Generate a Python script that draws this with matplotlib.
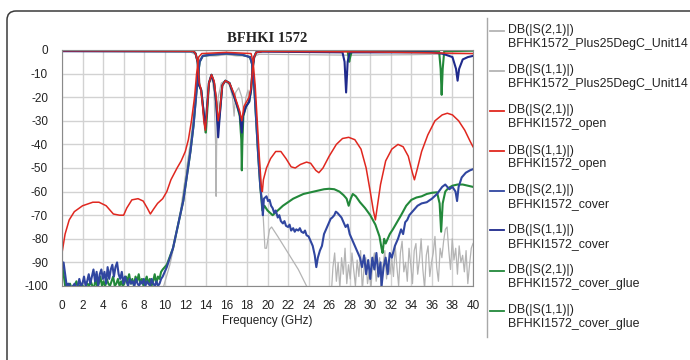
import matplotlib
matplotlib.use("Agg")
import matplotlib.pyplot as plt
import numpy as np
from matplotlib.patches import FancyBboxPatch
from matplotlib.lines import Line2D

plt.rcParams['font.family'] = ['Liberation Sans', 'DejaVu Sans']
plt.rcParams['axes.unicode_minus'] = False

# ---- data (GHz, dB) ----
# gray: BFHK1572_Plus25DegC_Unit14
g21_f = [0, 9.5, 9.9, 10.5, 11, 11.5, 12, 12.5, 13, 13.2, 13.4, 13.8, 15, 16, 17, 18, 18.4, 18.6,
         18.8, 19.1, 19.4, 19.6, 19.75, 19.9, 20.2, 20.4, 21, 22, 23, 23.8, 24.5, 26]
g21_db = [-110, -108, -100, -91, -81, -69, -54, -39, -20, -9, -4, -2.5, -2.5, -2, -2.5, -2.5, -4, -10,
          -20, -40, -60, -72, -84, -84, -76, -75, -79, -86, -93, -100, -106, -106]
g21_noise_db = [-104, -92, -86, -98, -90, -101, -88, -95, -84, -99, -91,
                -97, -86, -93, -100, -89, -96, -85, -102, -92, -88, -99, -94,
                -101, -90, -86, -98, -93, -88, -104, -91, -85, -97, -89, -95,
                -88, -96, -83, -92, -100, -86, -81, -94, -90, -98, -84, -91,
                -99, -85, -82, -95, -89, -80, -93, -101, -87, -83, -96, -90,
                -86, -79, -92, -98, -84, -88, -81, -76, -75, -85, -93, -80,
                -89, -84, -95, -83, -90, -87, -94, -85, -99, -91, -84, -82]

g11_f = [0, 12.5, 13.0, 13.3, 13.45, 13.6, 13.75, 13.9, 14.05, 14.3, 14.6, 14.8, 14.95, 15.0, 15.05,
         15.2, 15.5, 15.9, 16.3, 16.6, 16.75, 16.9, 17.2, 17.5, 17.7, 17.9, 18.1, 18.3, 18.45, 18.6,
         18.8, 19.2, 24, 28, 34, 40]
g11_db = [-0.6, -0.8, -2, -8, -15, -18, -25, -35, -25, -14, -12, -18, -40, -62, -40,
          -20, -14, -13, -15, -20, -28, -18, -16, -20, -27, -20, -17, -22, -15, -6,
          -2.5, -1.8, -2, -2.2, -2, -1.5]

# red: BFHKI1572_open
r21_f = [0, 0.3, 0.7, 1.2, 2, 3, 3.6, 4.3, 5, 5.6, 6, 6.3, 6.8, 7.4, 7.9, 8.3, 8.6, 8.9, 9.3, 9.8,
         10.2, 10.6, 11.2, 11.6, 12.0, 12.3, 12.6, 12.9, 13.1, 13.3, 13.6, 16, 18.4, 18.6, 18.8,
         19.0, 19.2, 19.4, 19.5, 19.6, 19.9, 20.3, 20.8, 21.3, 21.8, 22.3, 22.7, 23.2, 23.8, 24.2,
         24.7, 25.0, 25.4, 26, 26.7, 27.3, 27.9, 28.5, 29.1, 29.6, 30.0, 30.3, 30.5, 30.7, 31.0,
         31.5, 32.1, 32.7, 33.2, 33.7, 34.1, 34.3, 34.6, 35.0, 35.6, 36.3, 37.0, 37.5, 38.0, 38.6,
         39.2, 39.7, 40]
r21_db = [-86, -78, -72, -68.5, -66, -64.5, -64.5, -66, -69.5, -70, -70, -67, -63.5, -63, -64, -67,
          -69.5, -67.5, -65, -63, -60, -55, -50, -47, -43, -38, -30, -20, -10, -3, -1.5, -1, -1.5,
          -5, -15, -30, -45, -58, -60, -55, -50, -46, -43, -43, -46, -49.5, -50, -48.5, -47.5, -48,
          -51, -52, -50, -45, -40, -37.5, -37, -38, -42, -50, -60, -68, -72, -66, -57,
          -47, -42, -40, -41, -45, -52, -55, -50, -43, -36, -30, -27.5, -26.8, -27.5, -30,
          -34, -38.5, -41]

r11_f = [0, 12.8, 13.0, 13.2, 13.35, 13.5, 13.65, 13.8, 13.95, 14.1, 14.3, 14.55, 14.8, 15.0, 15.2,
         15.35, 15.6, 15.9, 16.3, 16.7, 17.0, 17.3, 17.5, 17.7, 17.95, 18.2, 18.4, 18.55, 18.7,
         18.9, 19.5, 30, 40]
r11_db = [-0.3, -0.5, -1.5, -5, -14, -16, -22, -30, -34, -26, -14, -10.5, -13, -20, -30,
          -26, -15, -13, -14, -18, -22, -26, -30, -24, -22, -20, -16, -8, -3,
          -1, -0.6, -0.8, -1.5]

# blue: BFHKI1572_cover
b21_noise_db = [-93, -90, -95, -100, -99, -100, -101, -100, -99, -101, -100, -97, -100, -99, -96,
                -100, -98, -95, -99, -96, -93, -98, -94, -100, -95, -93, -97, -94, -99, -92,
                -97, -93, -91, -96, -92, -90, -95, -97, -94, -99, -96, -98, -100, -97, -99,
                -98, -100, -97, -99, -100, -98, -99, -97, -100, -98, -99, -100, -97, -99,
                -100, -98, -100, -99, -97, -96]
b21_f = [10.2, 10.8, 11.3, 11.8, 12.2, 12.5, 12.8, 13.0, 13.2, 13.4, 13.7, 14.5, 16, 17.5, 18.3,
         18.5, 18.7, 18.9, 19.1, 19.3, 19.45, 19.55, 19.65, 19.9, 20.05, 20.2, 20.35, 20.5, 20.65,
         20.8, 21, 21.15, 21.3, 21.5, 21.65, 21.8, 22, 22.15, 22.3, 22.5, 22.65, 22.8, 23, 23.15,
         23.3, 23.5, 23.65, 23.8, 24, 24.2, 24.4, 24.6, 24.75, 24.9, 25.1, 25.3, 25.5, 25.65, 25.8,
         26, 26.15, 26.3, 26.5, 26.65, 26.8, 27.0, 27.2, 27.4, 27.6, 27.8, 28.0, 28.2, 28.4,
         28.6, 28.8, 29.0, 29.2, 29.4, 29.6, 29.8, 30.0, 30.2, 30.4, 30.6, 30.8, 31.0, 31.1, 31.3,
         31.5, 31.7, 31.9, 32.1, 32.4, 32.7, 33.0, 33.2, 33.4, 33.6, 33.8, 34.0, 34.2, 34.4, 34.6,
         35, 35.5, 36, 36.5, 37.0, 37.3, 37.7, 38.0, 38.3, 38.45, 38.6, 38.9, 39.3, 39.7, 40]
b21_db = [-92, -84, -74, -64, -52, -43, -32, -22, -12, -5, -2.5, -2, -1.5, -2, -3,
          -6, -15, -30, -45, -58, -64, -70, -63, -62, -64, -63.5, -66, -67, -69, -68,
          -71, -70, -72.5, -73.5, -72.5, -74.5, -75, -74, -76.5, -75.5, -77, -76, -76.5, -75.5,
          -77, -77.5, -76.5, -78.5, -79, -81, -83, -87, -92, -88, -85,
          -83, -78, -76.5, -75, -73, -71.5, -71, -70, -68.5, -69, -70, -71, -73, -75, -74, -78, -80,
          -82, -84, -86, -88, -92, -87, -95, -89, -97, -88, -93, -86, -96, -90, -100, -92,
          -88, -95, -86, -88, -83, -80, -76, -78, -73, -72, -70, -69, -68, -67, -66,
          -65, -64.5, -63, -61, -58, -57, -59, -58, -60, -64, -58, -54, -52, -51, -50.5]

b11_f = [0, 12.8, 13.0, 13.2, 13.35, 13.55, 13.75, 13.95, 14.1, 14.3, 14.55, 14.8, 15.0, 15.2,
         15.35, 15.6, 15.9, 16.3, 16.7, 17.0, 17.3, 17.5, 17.6, 17.9, 18.2, 18.4, 18.55, 18.7,
         18.9, 19.5, 27.3, 27.5, 27.65, 27.8, 28, 36, 37, 38.0, 38.35, 38.5, 38.65, 39, 39.5, 40]
b11_db = [-0.5, -0.6, -1.5, -5, -15, -17, -25, -33, -25, -14, -10.5, -14, -22, -37,
          -28, -15, -13, -14, -19, -23, -27, -35, -28, -24, -22, -17, -8, -3,
          -1, -0.7, -1, -5, -18, -5, -1, -1, -1.5, -3, -8, -13, -8, -4, -3, -2.5]

# green: BFHKI1572_cover_glue
gr21_noise_db = [-91, -95, -100, -101, -100, -99, -101, -100, -100, -98, -101, -100, -99, -100,
                 -101, -100, -99, -100, -98, -100, -101, -97, -100, -99, -96, -100, -98, -100,
                 -97, -99, -100, -98, -96, -100, -99, -97, -100, -98, -100, -99, -96, -98, -95,
                 -99, -97, -100, -96, -98, -95, -99, -97, -100, -98, -96, -99, -97, -100, -98,
                 -95, -99, -96, -97, -94, -93]
gr21_f = [10.2, 10.8, 11.3, 11.8, 12.2, 12.5, 12.8, 13.0, 13.2, 13.4, 13.7, 14.5, 16, 17.5, 18.3,
          18.5, 18.7, 18.9, 19.1, 19.3, 19.5, 19.7, 20, 20.5, 21, 21.5, 22, 22.5, 23, 23.5, 24,
          24.5, 25, 25.5, 26, 26.5, 27, 27.4, 27.7, 27.9, 28.1, 28.3, 28.6, 29, 29.5, 30, 30.5,
          30.9, 31.1, 31.2, 31.35, 31.5, 31.7, 31.9, 32.2, 32.6, 33, 33.5, 34, 34.5, 35, 35.5,
          36, 36.5, 36.75, 36.9, 37.05, 37.3, 37.6, 38, 38.5, 39, 39.5, 40]
gr21_db = [-91, -84, -74, -64, -52, -43, -32, -22, -12, -5, -2.5, -2, -1.5, -2, -3,
           -6, -15, -30, -45, -58, -68, -66, -68, -70, -68, -66, -64.5, -63, -62, -61, -60.5,
           -60, -59.5, -59, -58.8, -59, -60, -61.5, -63, -66, -63, -61, -62, -64.5, -67, -70, -74,
           -79, -84, -86, -80, -82, -80, -78, -76, -73, -70, -66, -63.5, -62.5, -62, -61,
           -60.5, -60.3, -65, -77, -65, -60, -58.5, -57.5, -57, -57, -57.5, -58]

gr11_f = [0, 12.8, 13.0, 13.2, 13.35, 13.55, 13.75, 14.0, 14.15, 14.3, 14.55, 14.8, 15.0, 15.2,
          15.35, 15.6, 15.9, 16.3, 16.7, 17.0, 17.3, 17.45, 17.5, 17.55, 17.65, 17.9, 18.2, 18.4,
          18.55, 18.7, 18.9, 19.5, 27.8, 27.95, 28.05, 28.2, 36.7, 36.85, 36.95, 37.05, 37.2, 40]
gr11_db = [-0.4, -0.5, -1.5, -5, -15, -17, -25, -35, -25, -14, -10.5, -14, -22, -33,
           -27, -15, -13, -14, -19, -23, -28, -38, -51, -40, -28, -24, -22, -17,
           -8, -3, -1, -0.4, -0.5, -5, -3, -0.5, -0.5, -8, -19, -8, -0.5, -0.3]

labels = ["BFHK1572_Plus25DegC_Unit14", "BFHK1572_Plus25DegC_Unit14", "BFHKI1572_open",
          "BFHKI1572_open", "BFHKI1572_cover", "BFHKI1572_cover", "BFHKI1572_cover_glue",
          "BFHKI1572_cover_glue"]
params = ["DB(|S(2,1)|)", "DB(|S(1,1)|)"] * 4
colors = ["#b4b4b4", "#b4b4b4", "#e0271f", "#e0271f", "#3046a0", "#1f2a8c", "#22883a", "#22883a"]

# full sweeps
g21_x = np.concatenate([g21_f, np.linspace(26.2, 40, len(g21_noise_db))])
g21_y = np.concatenate([g21_db, g21_noise_db])
b21_x = np.concatenate([np.linspace(0, 9.8, len(b21_noise_db)), b21_f])
b21_y = np.concatenate([b21_noise_db, b21_db])
gr21_x = np.concatenate([np.linspace(0, 9.8, len(gr21_noise_db)), gr21_f])
gr21_y = np.concatenate([gr21_noise_db, gr21_db])

fig = plt.figure(figsize=(6.9, 3.6), dpi=100)
ax = fig.add_axes([62 / 690, 1 - 286 / 360, 411 / 690, 236 / 360])

ax.plot(g21_x, g21_y, color=colors[0], lw=0.9)
ax.plot(g11_f, g11_db, color=colors[1], lw=0.9)
ax.plot(gr21_x, gr21_y, color=colors[6], lw=1.5)
ax.plot(gr11_f, gr11_db, color=colors[7], lw=1.5)
ax.plot(b21_x, b21_y, color=colors[4], lw=1.5)
ax.plot(b11_f, b11_db, color=colors[5], lw=1.5)
ax.plot(r21_f, r21_db, color=colors[2], lw=1.1)
ax.plot(r11_f, r11_db, color=colors[3], lw=1.1)

ax.set_xlim(0, 40)
ax.set_ylim(-100, 0)
ax.set_xticks(range(0, 41, 2))
ax.set_yticks(range(-100, 1, 10))
ax.grid(color='#d2d2d2', lw=1)
ax.set_axisbelow(True)
for s in ax.spines.values():
    s.set_color('#8a8a8a')
ax.tick_params(length=0, labelsize=8.5, colors='#222222')
ax.tick_params(axis='x', pad=10)
ax.tick_params(axis='y', pad=10)

fig.text(267.5 / 690, 1 - 38 / 360, "BFHKI 1572", ha='center', va='center',
         family='Liberation Serif', fontweight='bold', size=10.5, color='#222222')
fig.text(267.5 / 690, 1 - 321 / 360, "Frequency (GHz)", ha='center', va='center',
         size=8.5, color='#222222')

# frame and separator
frame = FancyBboxPatch((7, -30), 720, 379, boxstyle="round,pad=0,rounding_size=9",
                       transform=None, fc='none', ec='#3a3a3a', lw=1.1)
fig.add_artist(frame)
fig.add_artist(Line2D([487 / 690, 487 / 690], [1 - 18 / 360, 1 - 337 / 360],
                      color='#a8a8a8', lw=1))

# legend
for k in range(8):
    y1 = 1 - (30.5 + 40 * k) / 360
    y2 = 1 - (44 + 40 * k) / 360
    fig.add_artist(Line2D([490 / 690, 504 / 690], [y1, y1], color=colors[k], lw=1.3))
    fig.text(508 / 690, y1, params[k], va='center', ha='left', size=8.9, color='#222222')
    fig.text(508 / 690, y2, labels[k], va='center', ha='left', size=8.9, color='#222222')

fig.savefig("out.png", dpi=100)
